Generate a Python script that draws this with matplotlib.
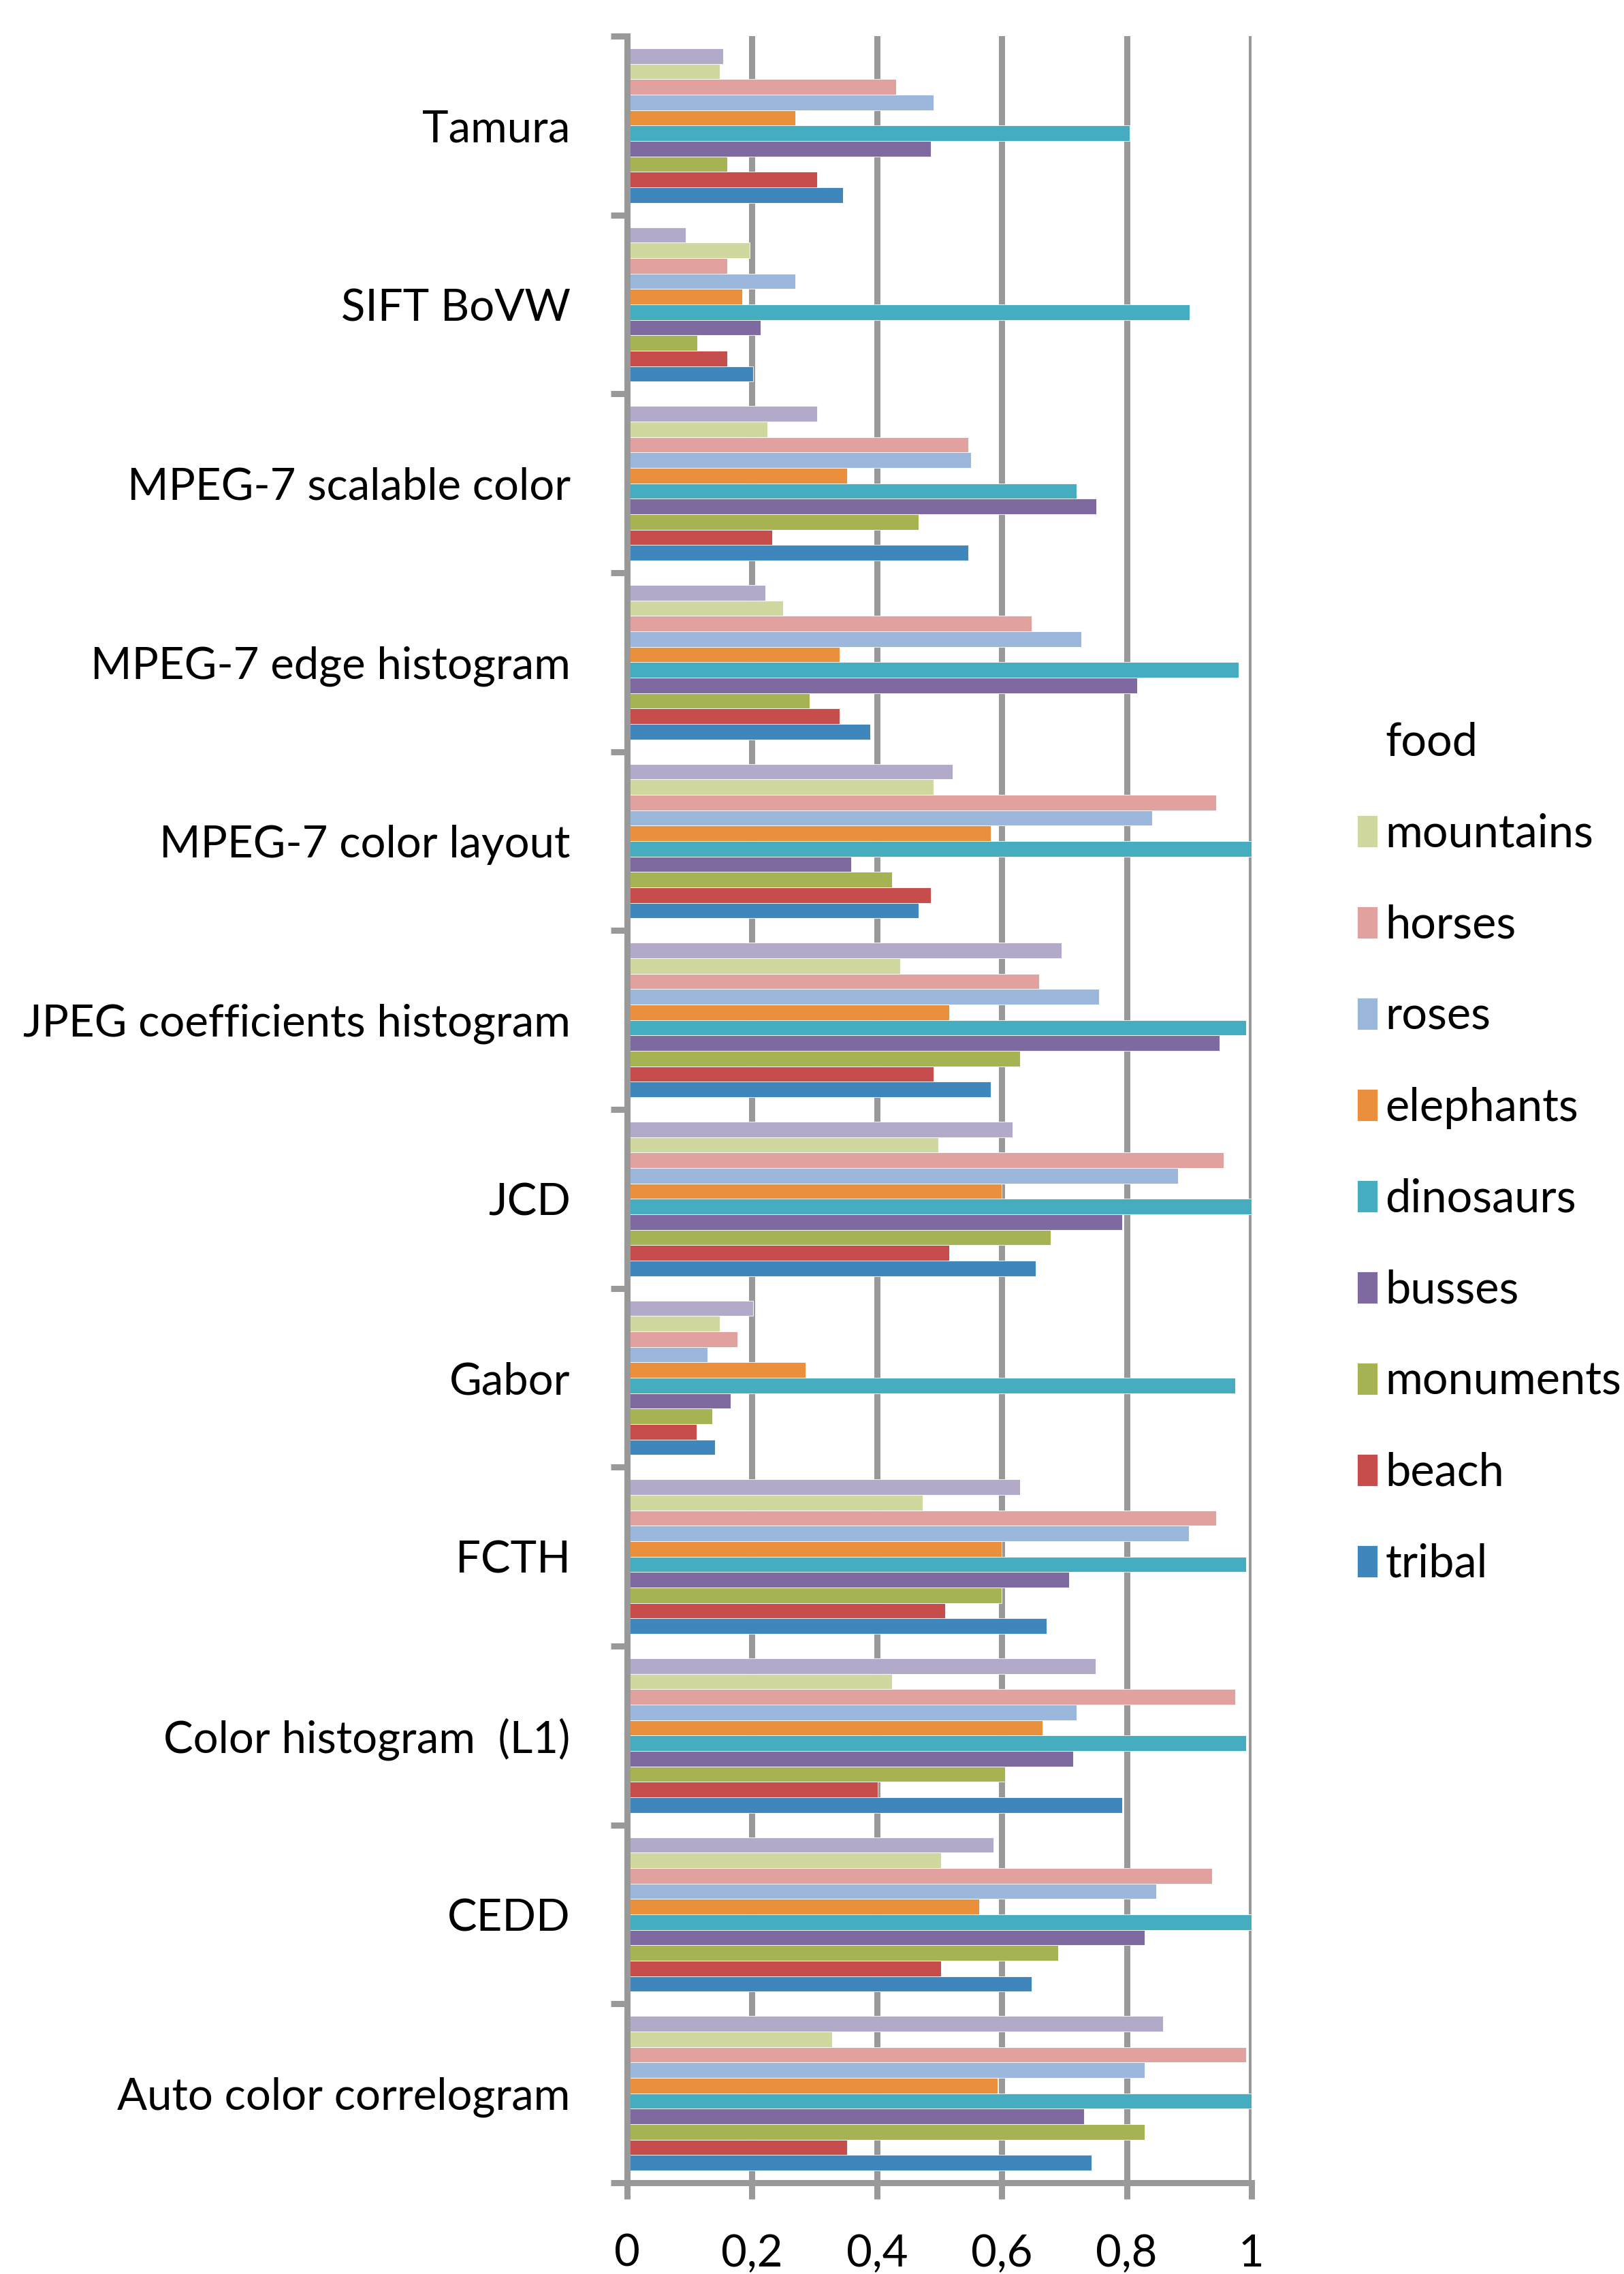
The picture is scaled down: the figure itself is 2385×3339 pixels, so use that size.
import numpy as np
import matplotlib
matplotlib.use("Agg")
import matplotlib.pyplot as plt
from matplotlib.patches import Patch

plt.rcParams["font.family"] = ["Lato", "DejaVu Sans"]

# categories, bottom to top as drawn
categories = [
    "Auto color correlogram",
    "CEDD",
    "Color histogram  (L1)",
    "FCTH",
    "Gabor",
    "JCD",
    "JPEG coefficients histogram",
    "MPEG-7 color layout",
    "MPEG-7 edge histogram",
    "MPEG-7 scalable color",
    "SIFT BoVW",
    "Tamura",
]

# one list per class, same order as categories
tribal = [0.744, 0.648, 0.793, 0.672, 0.141, 0.654, 0.582, 0.467, 0.389, 0.546, 0.202, 0.346]
beach = [0.352, 0.503, 0.401, 0.509, 0.111, 0.516, 0.491, 0.486, 0.340, 0.232, 0.160, 0.304]
monuments = [0.829, 0.690, 0.605, 0.600, 0.136, 0.678, 0.629, 0.424, 0.292, 0.467, 0.112, 0.160]
busses = [0.732, 0.829, 0.714, 0.708, 0.166, 0.793, 0.949, 0.359, 0.817, 0.751, 0.214, 0.486]
dinosaurs = [1.0, 1.0, 0.991, 0.991, 0.974, 1.0, 0.991, 1.0, 0.979, 0.720, 0.901, 0.805]
elephants = [0.593, 0.564, 0.665, 0.600, 0.286, 0.600, 0.516, 0.582, 0.340, 0.352, 0.184, 0.269]
roses = [0.829, 0.847, 0.720, 0.900, 0.129, 0.882, 0.756, 0.841, 0.727, 0.551, 0.269, 0.491]
horses = [0.991, 0.937, 0.974, 0.943, 0.177, 0.955, 0.660, 0.943, 0.648, 0.546, 0.160, 0.431]
mountains = [0.328, 0.503, 0.424, 0.473, 0.148, 0.498, 0.437, 0.491, 0.250, 0.225, 0.196, 0.148]
food = [0.858, 0.587, 0.750, 0.629, 0.202, 0.617, 0.696, 0.521, 0.221, 0.304, 0.094, 0.154]

series_names = ["tribal", "beach", "monuments", "busses", "dinosaurs",
                "elephants", "roses", "horses", "mountains", "food"]
series_values = [tribal, beach, monuments, busses, dinosaurs,
                 elephants, roses, horses, mountains, food]
series_colors = ["#3F86BD", "#C64D4B", "#A7B352", "#7E6AA0", "#46ACBF",
                 "#EA8F3C", "#9BB8DC", "#E0A19F", "#D1D89F", "#B3AACA"]

xticks = [0, 0.2, 0.4, 0.6, 0.8, 1.0]
xtick_labels = ["0", "0,2", "0,4", "0,6", "0,8", "1"]

W, H = 2385, 3339
fig = plt.figure(figsize=(W / 100, H / 100), dpi=100)
ax = fig.add_axes([921 / W, 1 - 3205 / H, (1838 - 921) / W, (3205 - 53) / H])

grey = "#999999"
lw = 6.5
fs = 47

y = np.arange(len(categories))
n = len(series_names)
group = 0.862
bh = group / n

bars = []
for i, (name, vals, col) in enumerate(zip(series_names, series_values, series_colors)):
    b = ax.barh(y - group / 2 + (i + 0.5) * bh, vals, height=bh, color=col,
                edgecolor="white", linewidth=0.6, label=name)
    bars.append(b)

ax.set_xlim(0, 1)
ax.set_ylim(-0.5, len(categories) - 0.5)

ax.set_xticks(xticks)
ax.set_xticklabels(xtick_labels, fontsize=fs)
ax.set_yticks(np.arange(-0.5, len(categories)))
ax.set_yticklabels([])
ax.set_yticks(y, minor=True)
ax.set_yticklabels(categories, minor=True, fontsize=fs)

ax.tick_params(axis="x", length=17, width=lw, color=grey, pad=37)
ax.tick_params(axis="y", which="major", length=17, width=lw, color=grey)
ax.tick_params(axis="y", which="minor", length=0, pad=60)

ax.set_axisbelow(True)
ax.xaxis.grid(True, color=grey, linewidth=lw, solid_capstyle="round")
for side in ["top", "right"]:
    ax.spines[side].set_visible(False)
for side in ["left", "bottom"]:
    ax.spines[side].set_color(grey)
    ax.spines[side].set_linewidth(lw)

handles = [b.patches[0] for b in bars][::-1]
labels = series_names[::-1]
handles[0] = Patch(facecolor="none", edgecolor="none")
fig.legend(handles, labels, loc="upper left", bbox_to_anchor=(1993 / W, 1 - 1060 / H),
           frameon=False, fontsize=48, borderpad=0, borderaxespad=0,
           handlelength=0.45, handleheight=0.72, handletextpad=0.17, labelspacing=1.08)

fig.savefig("out.png", dpi=100)
